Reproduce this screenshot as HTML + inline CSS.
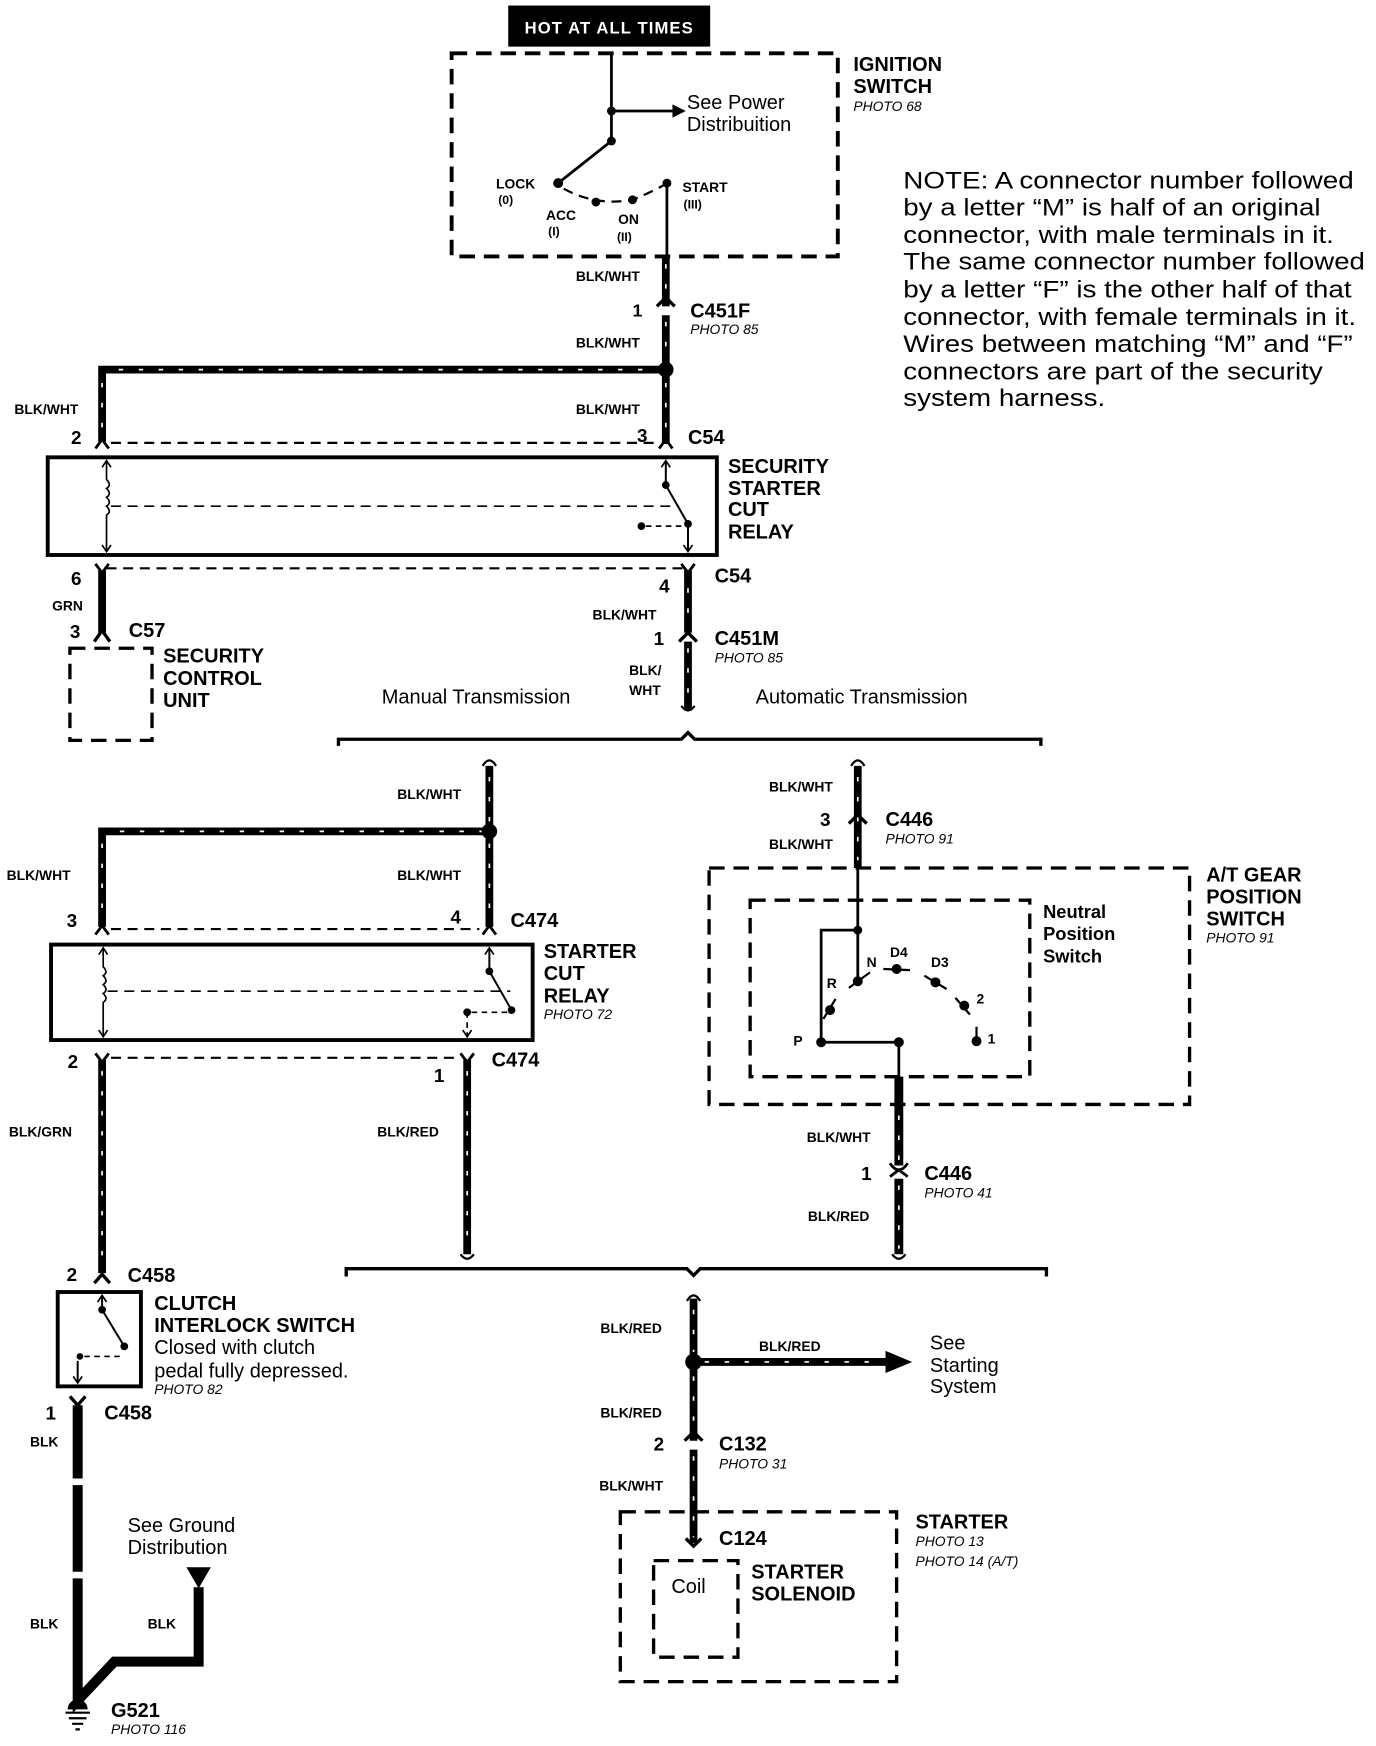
<!DOCTYPE html>
<html><head><meta charset="utf-8"><style>
html,body{margin:0;padding:0;background:#fff;}
svg{display:block;}
text{font-family:"Liberation Sans",sans-serif;fill:#000;}
.b{font-weight:bold;}
.t{font-weight:bold;font-size:18px;}
.w{font-weight:bold;font-size:12.5px;}
.p{font-style:italic;font-size:12.5px;}
.n{font-size:18px;}
.wire{stroke:#000;stroke-width:7;fill:none;}
.wd{stroke:#fff;stroke-width:1.5;stroke-dasharray:4 14;fill:none;}
.dash{stroke:#000;stroke-width:3.5;stroke-dasharray:14 8;fill:none;}
.thin{stroke:#000;stroke-width:2;fill:none;}
.tdash{stroke:#000;stroke-width:2;stroke-dasharray:9 6;fill:none;}
</style></head><body>
<svg width="1376" height="1746" viewBox="0 0 1240 1573" preserveAspectRatio="none" xmlns="http://www.w3.org/2000/svg">
<rect x="458" y="5" width="182" height="37" fill="#000"/>
<text x="549" y="30" text-anchor="middle" style="fill:#fff;font-size:15px;font-weight:bold;letter-spacing:1px">HOT AT ALL TIMES</text>

<rect x="407" y="48" width="348" height="183" class="dash"/>
<text x="769" y="64" class="t">IGNITION</text>
<text x="769" y="84" class="t">SWITCH</text>
<text x="769" y="100" class="p">PHOTO 68</text>
<path d="M551 48 V100 H608" class="thin" style="stroke-width:2.5"/>
<path d="M606 94 L618 100 L606 106Z"/>
<circle cx="551" cy="100" r="4"/>
<path d="M551 100 V127 L503 165" class="thin" style="stroke-width:2.5"/>
<circle cx="551" cy="127" r="4"/>
<circle cx="503" cy="165" r="4.5"/>
<path d="M508 170 Q537 186 570 180 Q590 172 601 165" class="tdash"/>
<circle cx="537" cy="182" r="4"/><circle cx="570" cy="180" r="4"/>
<circle cx="601" cy="165" r="4"/>
<path d="M601 165 V232" class="thin" style="stroke-width:2.5"/>
<text x="619" y="98" class="n">See Power</text>
<text x="619" y="118" class="n">Distribuition</text>
<text x="447" y="170" class="b" style="font-size:12.5px">LOCK</text>
<text x="449" y="184" class="b" style="font-size:11px">(0)</text>
<text x="492" y="198" class="b" style="font-size:12.5px">ACC</text>
<text x="494" y="212" class="b" style="font-size:11px">(I)</text>
<text x="557" y="202" class="b" style="font-size:12.5px">ON</text>
<text x="556" y="217" class="b" style="font-size:11px">(II)</text>
<text x="615" y="173" class="b" style="font-size:12.5px">START</text>
<text x="616" y="188" class="b" style="font-size:11px">(III)</text>

<g>
<text x="814" y="170" style="font-size:22px" textLength="406" lengthAdjust="spacingAndGlyphs">NOTE: A connector number followed</text>
<text x="814" y="194" style="font-size:22px" textLength="376" lengthAdjust="spacingAndGlyphs">by a letter “M” is half of an original</text>
<text x="814" y="219" style="font-size:22px" textLength="388" lengthAdjust="spacingAndGlyphs">connector, with male terminals in it.</text>
<text x="814" y="243" style="font-size:22px" textLength="416" lengthAdjust="spacingAndGlyphs">The same connector number followed</text>
<text x="814" y="268" style="font-size:22px" textLength="404" lengthAdjust="spacingAndGlyphs">by a letter “F” is the other half of that</text>
<text x="814" y="293" style="font-size:22px" textLength="408" lengthAdjust="spacingAndGlyphs">connector, with female terminals in it.</text>
<text x="814" y="317" style="font-size:22px" textLength="405" lengthAdjust="spacingAndGlyphs">Wires between matching “M” and “F”</text>
<text x="814" y="342" style="font-size:22px" textLength="378" lengthAdjust="spacingAndGlyphs">connectors are part of the security</text>
<text x="814" y="366" style="font-size:22px" textLength="182" lengthAdjust="spacingAndGlyphs">system harness.</text>
</g>

<path d="M600 232 V276 M600 284 V400 M600 333 H92 V398" class="wire"/>
<path d="M600 238 V272 M600 290 V330 M597 333 H100 M92 345 V395 M600 345 V395" class="wd"/>
<path d="M592 276 L600 268 L608 276" class="thin" style="stroke-width:3"/>
<circle cx="600" cy="333" r="7"/>
<text x="519" y="253" class="w">BLK/WHT</text>
<text x="519" y="313" class="w">BLK/WHT</text>
<text x="570" y="285" class="b" style="font-size:16px">1</text>
<text x="622" y="286" class="t">C451F</text>
<text x="622" y="301" class="p">PHOTO 85</text>
<text x="13" y="373" class="w">BLK/WHT</text>
<text x="519" y="373" class="w">BLK/WHT</text>
<text x="64" y="400" class="b" style="font-size:17px">2</text>
<text x="574" y="398" class="b" style="font-size:17px">3</text>
<text x="620" y="400" class="t">C54</text>
<path d="M86 404 L92 396 L98 404 M594 404 L600 396 L606 404" class="thin" style="stroke-width:2.5"/>
<path d="M100 399 H590" class="tdash"/>

<rect x="43" y="412" width="603" height="88" fill="none" stroke="#000" stroke-width="3.5"/>
<text x="656" y="426" class="t">SECURITY</text>
<text x="656" y="446" class="t">STARTER</text>
<text x="656" y="465" class="t">CUT</text>
<text x="656" y="485" class="t">RELAY</text>
<path d="M96 416 V432 q5 5 0 8 q5 5 0 8 q5 5 0 8 q5 5 0 8 V497" class="thin" style="stroke-width:1.5"/>
<path d="M92 421 L96 415 L100 421 M92 491 L96 497 L100 491" class="thin" style="stroke-width:1.5"/>
<path d="M100 456 H612" class="tdash" style="stroke-width:1.5"/>
<path d="M600 416 V437 L620 472 V497" class="thin" style="stroke-width:1.8"/>
<path d="M596 421 L600 415 L604 421 M616 491 L620 497 L624 491" class="thin" style="stroke-width:1.5"/>
<circle cx="600" cy="437" r="3.5"/><circle cx="620" cy="472" r="3.5"/><circle cx="578" cy="474" r="3.5"/>
<path d="M582 474 H616" class="tdash" style="stroke-width:1.5;stroke-dasharray:5 4"/>

<path d="M96 512 H615" class="tdash"/>
<path d="M86 508 L92 516 L98 508 M614 508 L620 516 L626 508" class="thin" style="stroke-width:2.5"/>
<path d="M92 514 V570 M620 514 V570 M620 578 V640" class="wire"/>
<path d="M620 530 V565 M620 584 V632" class="wd"/>
<path d="M85 578 L92 568 L99 578 M612 578 L620 570 L628 578" class="thin" style="stroke-width:3"/>
<path d="M614 636 Q620 644 626 636" class="thin" style="stroke-width:2"/>
<text x="64" y="527" class="b" style="font-size:17px">6</text>
<text x="47" y="550" class="w">GRN</text>
<text x="63" y="575" class="b" style="font-size:17px">3</text>
<text x="116" y="574" class="t">C57</text>
<rect x="63" y="584" width="74" height="83" class="dash" style="stroke-width:3"/>
<text x="147" y="597" class="t">SECURITY</text>
<text x="147" y="617" class="t">CONTROL</text>
<text x="147" y="637" class="t">UNIT</text>
<text x="594" y="534" class="b" style="font-size:17px">4</text>
<text x="644" y="525" class="t">C54</text>
<text x="534" y="558" class="w">BLK/WHT</text>
<text x="589" y="581" class="b" style="font-size:17px">1</text>
<text x="644" y="581" class="t">C451M</text>
<text x="644" y="597" class="p">PHOTO 85</text>
<text x="567" y="608" class="w">BLK/</text>
<text x="567" y="626" class="w">WHT</text>
<text x="344" y="634" class="n">Manual Transmission</text>
<text x="681" y="634" class="n">Automatic Transmission</text>
<path d="M305 672 V666 H614 L620 660 L626 666 H938 V672" class="thin" style="stroke-width:3"/>

<path d="M441 690 V835 M441 749 H92 V835 M773 690 V782" class="wire"/>
<path d="M441 700 V740 M441 760 V825 M436 749 H100 M92 760 V825 M773 700 V775" class="wd"/>
<path d="M435 690 Q441 680 447 690 M767 690 Q773 680 779 690" class="thin" style="stroke-width:2"/>
<circle cx="441" cy="749" r="7"/>
<text x="358" y="720" class="w">BLK/WHT</text>
<text x="6" y="793" class="w">BLK/WHT</text>
<text x="358" y="793" class="w">BLK/WHT</text>
<text x="60" y="835" class="b" style="font-size:17px">3</text>
<text x="406" y="832" class="b" style="font-size:17px">4</text>
<text x="460" y="835" class="t">C474</text>
<path d="M86 842 L92 834 L98 842 M435 842 L441 834 L447 842" class="thin" style="stroke-width:2.5"/>
<path d="M100 837 H432" class="tdash"/>
<rect x="46" y="851" width="434" height="86" fill="none" stroke="#000" stroke-width="3.5"/>
<text x="490" y="863" class="t">STARTER</text>
<text x="490" y="883" class="t">CUT</text>
<text x="490" y="903" class="t">RELAY</text>
<text x="490" y="918" class="p">PHOTO 72</text>
<path d="M93 855 V871 q5 5 0 8 q5 5 0 8 q5 5 0 8 q5 5 0 8 V934" class="thin" style="stroke-width:1.5"/>
<path d="M89 860 L93 854 L97 860 M89 928 L93 934 L97 928" class="thin" style="stroke-width:1.5"/>
<path d="M97 893 H460" class="tdash" style="stroke-width:1.5"/>
<path d="M441 855 V875 L461 910" class="thin" style="stroke-width:1.8"/>
<path d="M437 860 L441 854 L445 860" class="thin" style="stroke-width:1.5"/>
<circle cx="441" cy="875" r="3.5"/><circle cx="461" cy="910" r="3.5"/><circle cx="421" cy="912" r="3.5"/>
<path d="M425 912 H458 M421 912 V934" class="thin" style="stroke-width:1.5;stroke-dasharray:5 4"/>
<path d="M417 928 L421 934 L425 928" class="thin" style="stroke-width:1.5"/>
<path d="M100 953 H415" class="tdash"/>
<path d="M86 949 L92 957 L98 949 M415 949 L421 957 L427 949" class="thin" style="stroke-width:2.5"/>
<text x="61" y="962" class="b" style="font-size:17px">2</text>
<text x="391" y="975" class="b" style="font-size:17px">1</text>
<text x="443" y="961" class="t">C474</text>
<path d="M92 955 V1147 M421 955 V1130" class="wire"/>
<path d="M92 965 V1140 M421 965 V1125" class="wd"/>
<path d="M415 1130 Q421 1138 427 1130" class="thin" style="stroke-width:2"/>
<text x="8" y="1024" class="w">BLK/GRN</text>
<text x="340" y="1024" class="w">BLK/RED</text>
<text x="60" y="1154" class="b" style="font-size:17px">2</text>
<text x="115" y="1155" class="t">C458</text>
<path d="M85 1156 L92 1148 L99 1156" class="thin" style="stroke-width:3"/>
<rect x="52" y="1164" width="75" height="85" fill="none" stroke="#000" stroke-width="3.5"/>
<path d="M92 1168 V1180 L112 1213 M70 1226 V1245" class="thin" style="stroke-width:1.8"/>
<path d="M88 1173 L92 1167 L96 1173 M66 1240 L70 1246 L74 1240" class="thin" style="stroke-width:1.5"/>
<circle cx="92" cy="1180" r="3.5"/><circle cx="112" cy="1213" r="3.5"/><circle cx="72" cy="1222" r="3"/>
<path d="M76 1222 H108" class="thin" style="stroke-width:1.5;stroke-dasharray:5 4"/>
<text x="139" y="1180" class="t">CLUTCH</text>
<text x="139" y="1200" class="t">INTERLOCK SWITCH</text>
<text x="139" y="1220" class="n">Closed with clutch</text>
<text x="139" y="1241" class="n">pedal fully depressed.</text>
<text x="139" y="1256" class="p">PHOTO 82</text>
<path d="M63 1258 L70 1266 L77 1258" class="thin" style="stroke-width:3"/>
<text x="41" y="1279" class="b" style="font-size:17px">1</text>
<text x="94" y="1279" class="t">C458</text>
<text x="27" y="1303" class="w">BLK</text>
<path d="M70 1266 V1332 M70 1338 V1416 M70 1422 V1532 L103 1497 H179 V1430" class="wire" style="stroke-width:9"/>
<text x="27" y="1467" class="w">BLK</text>
<text x="133" y="1467" class="w">BLK</text>
<text x="115" y="1380" class="n">See Ground</text>
<text x="115" y="1400" class="n">Distribution</text>
<path d="M168 1412 H190 L179 1431Z"/>
<path d="M61 1540 A9 9 0 0 1 79 1540 Z"/>
<path d="M59 1543 H81 M62 1548 H78 M65 1553 H75 M68 1558 H72" class="thin" style="stroke-width:2"/>
<text x="100" y="1547" class="t">G521</text>
<text x="100" y="1562" class="p">PHOTO 116</text>

<text x="693" y="713" class="w">BLK/WHT</text>
<text x="739" y="744" class="b" style="font-size:17px">3</text>
<path d="M765 742 L773 734 L781 742" class="thin" style="stroke-width:3"/>
<text x="798" y="744" class="t">C446</text>
<text x="798" y="760" class="p">PHOTO 91</text>
<text x="693" y="765" class="w">BLK/WHT</text>
<rect x="639" y="782" width="433" height="213" class="dash" style="stroke-width:3"/>
<rect x="676" y="811" width="252" height="159" class="dash" style="stroke-width:3"/>
<text x="1087" y="794" class="t">A/T GEAR</text>
<text x="1087" y="814" class="t">POSITION</text>
<text x="1087" y="834" class="t">SWITCH</text>
<text x="1087" y="849" class="p">PHOTO 91</text>
<text x="940" y="827" class="b" style="font-size:16.5px">Neutral</text>
<text x="940" y="847" class="b" style="font-size:16.5px">Position</text>
<text x="940" y="867" class="b" style="font-size:16.5px">Switch</text>
<path d="M773 782 V884 M773 838 H740 V939 H810 V975" class="thin" style="stroke-width:2.5"/>
<circle cx="773" cy="838" r="4"/>
<circle cx="773" cy="884" r="4.5"/><circle cx="808" cy="873" r="4.5"/><circle cx="843" cy="885" r="4.5"/>
<circle cx="869" cy="906" r="4.5"/><circle cx="880" cy="938" r="4.5"/><circle cx="748" cy="910" r="4.5"/>
<circle cx="740" cy="939" r="4.5"/><circle cx="810" cy="939" r="4.5"/>
<path d="M765 890 L784 876 M796 873 L820 874 M833 879 L853 891 M861 899 L874 914 M880 925 V938 M742 918 L753 900" class="thin" style="stroke-width:2"/>
<text x="781" y="871" class="b" style="font-size:12.5px">N</text>
<text x="802" y="862" class="b" style="font-size:12.5px">D4</text>
<text x="839" y="871" class="b" style="font-size:12.5px">D3</text>
<text x="880" y="904" class="b" style="font-size:12.5px">2</text>
<text x="890" y="940" class="b" style="font-size:12.5px">1</text>
<text x="745" y="890" class="b" style="font-size:12.5px">R</text>
<text x="715" y="942" class="b" style="font-size:12.5px">P</text>
<path d="M810 970 V1050 M810 1062 V1130" class="wire" style="stroke-width:8"/>
<path d="M810 1005 V1045 M810 1068 V1125" class="wd"/>
<path d="M802 1048 Q810 1060 818 1048 M802 1060 L810 1054 L818 1060" class="thin" style="stroke-width:2.5"/>
<path d="M804 1130 Q810 1138 816 1130" class="thin" style="stroke-width:2"/>
<text x="727" y="1029" class="w">BLK/WHT</text>
<text x="776" y="1063" class="b" style="font-size:17px">1</text>
<text x="833" y="1063" class="t">C446</text>
<text x="833" y="1079" class="p">PHOTO 41</text>
<text x="728" y="1100" class="w">BLK/RED</text>

<path d="M312 1150 V1143 H619 L625 1149 L631 1143 H943 V1150" class="thin" style="stroke-width:3"/>
<path d="M625 1170 V1298 M625 1306 V1390 M625 1227 H800" class="wire"/>
<path d="M625 1180 V1218 M625 1240 V1290 M625 1312 V1385 M635 1227 H795" class="wd"/>
<path d="M619 1172 Q625 1162 631 1172" class="thin" style="stroke-width:2"/>
<path d="M798 1217 L822 1227 L798 1237Z"/>
<circle cx="625" cy="1227" r="7.5"/>
<path d="M617 1298 L625 1290 L633 1298" class="thin" style="stroke-width:3"/>
<path d="M618 1386 L625 1393 L632 1386" class="thin" style="stroke-width:3"/>
<text x="541" y="1201" class="w">BLK/RED</text>
<text x="684" y="1217" class="w">BLK/RED</text>
<text x="838" y="1216" class="n">See</text>
<text x="838" y="1236" class="n">Starting</text>
<text x="838" y="1255" class="n">System</text>
<text x="541" y="1277" class="w">BLK/RED</text>
<text x="589" y="1307" class="b" style="font-size:17px">2</text>
<text x="648" y="1307" class="t">C132</text>
<text x="648" y="1323" class="p">PHOTO 31</text>
<text x="540" y="1343" class="w">BLK/WHT</text>
<rect x="559" y="1362" width="249" height="153" class="dash" style="stroke-width:3"/>
<text x="648" y="1392" class="t">C124</text>
<rect x="589" y="1406" width="76" height="87" class="dash" style="stroke-width:3"/>
<text x="605" y="1435" class="n">Coil</text>
<text x="677" y="1422" class="t">STARTER</text>
<text x="677" y="1442" class="t">SOLENOID</text>
<text x="825" y="1377" class="t">STARTER</text>
<text x="825" y="1393" class="p">PHOTO 13</text>
<text x="825" y="1411" class="p">PHOTO 14 (A/T)</text>
</svg>
</body></html>
